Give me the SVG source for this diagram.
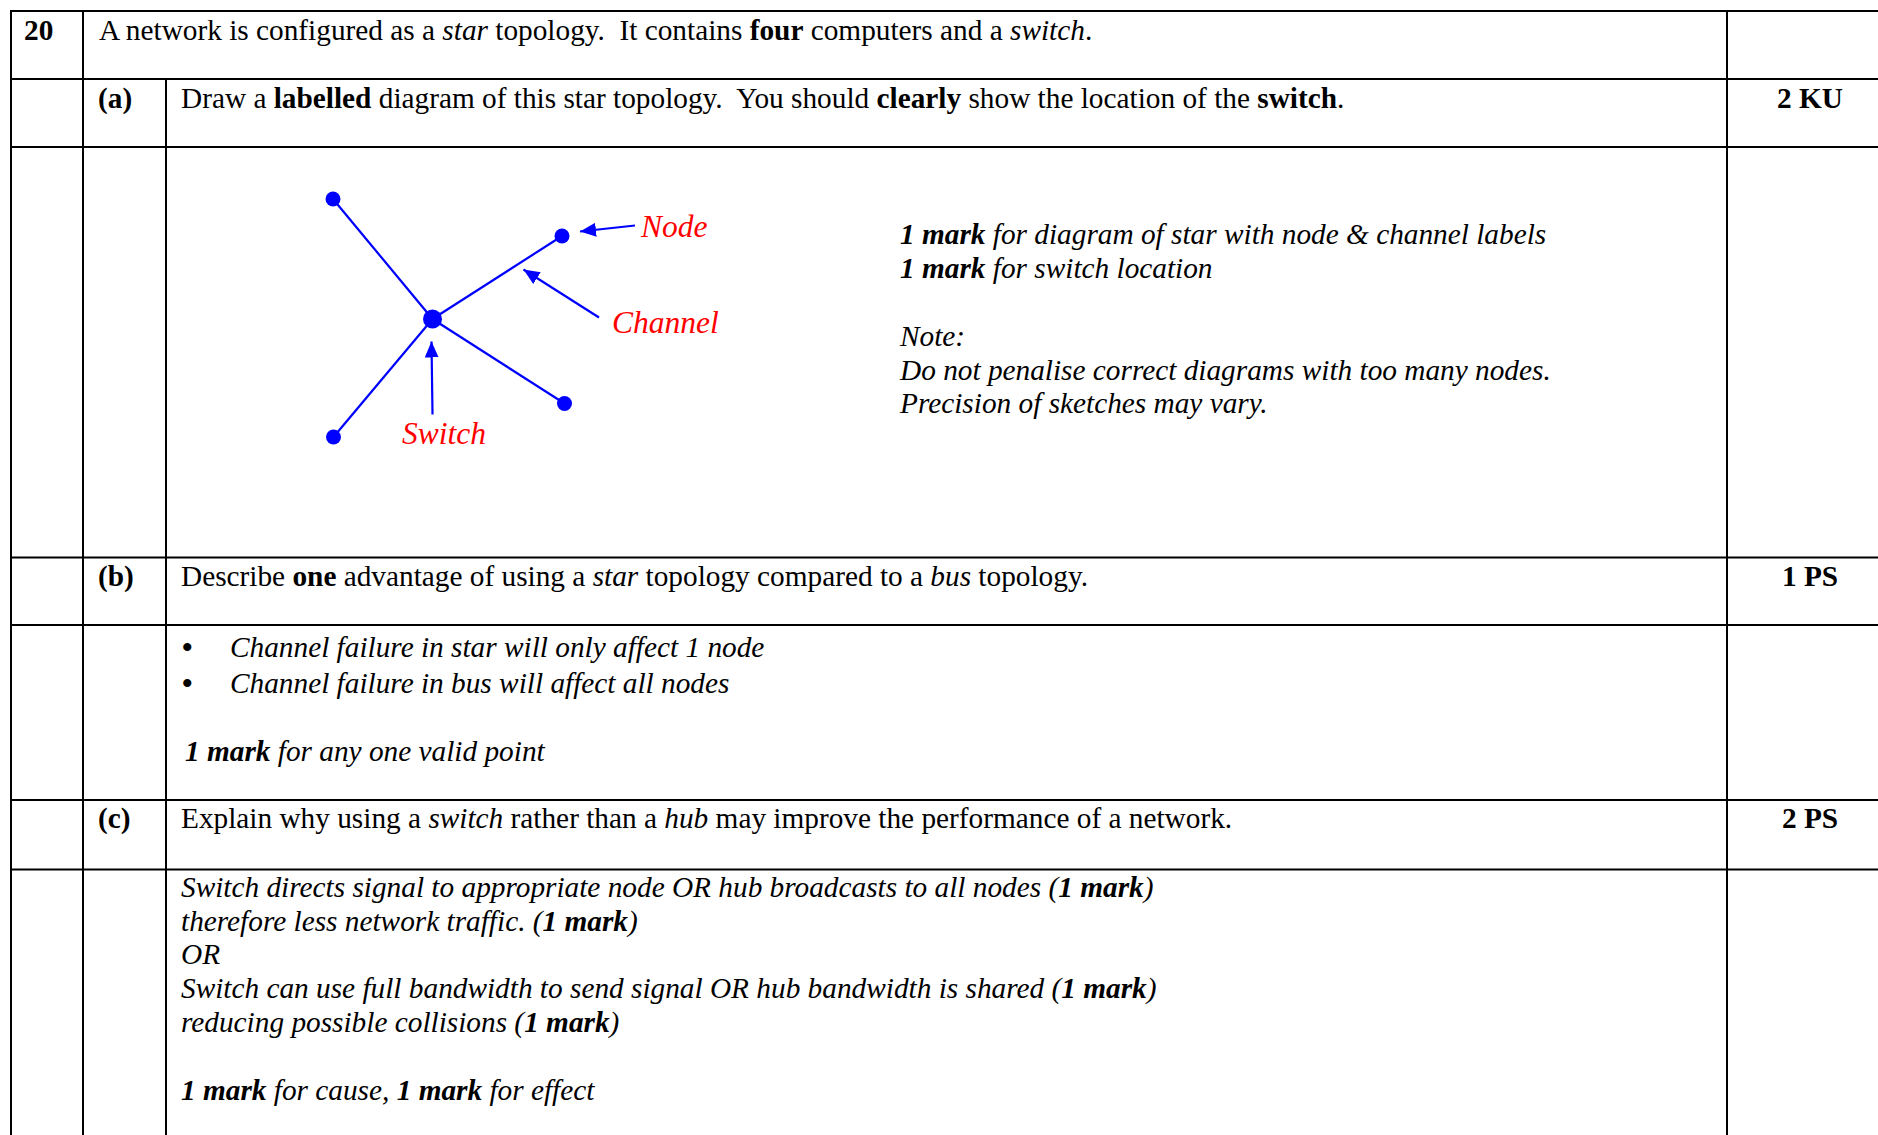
<svg xmlns="http://www.w3.org/2000/svg" width="1878" height="1135" viewBox="0 0 1878 1135">
  <defs>
    <style>
      .grid { stroke: #000; stroke-width: 2; fill: none; }
      .t { font-family: "Liberation Serif", "Times New Roman", serif; font-size: 29.3px; fill: #000; }
      .i { font-style: italic; }
      .b { font-weight: bold; }
      .mk { font-family: "Liberation Serif", "Times New Roman", serif; font-size: 29.3px; font-weight: bold; fill: #000; text-anchor: middle; }
      .bul { font-family: "Liberation Serif", "Times New Roman", serif; font-size: 30px; font-weight: bold; font-style: normal; fill: #000; }
      .lbl { font-family: "Liberation Serif", "Times New Roman", serif; font-size: 31.5px; font-style: italic; fill: #FF0000; }
      .link { stroke: #0000FF; stroke-width: 2.2; fill: none; }
      .ptr { stroke: #0000FF; stroke-width: 2.2; fill: none; marker-end: url(#arrow); }
      .dot { fill: #0000FF; }
    </style>
    <marker id="arrow" markerUnits="userSpaceOnUse" markerWidth="18" markerHeight="14" refX="16" refY="7" orient="auto">
      <path d="M0,0 L16,7 L0,14 Z" fill="#0000FF"/>
    </marker>
  </defs>

  <rect width="1878" height="1135" fill="#fff"/>

  <!-- table rules -->
  <g id="table" class="grid">
    <line x1="11" y1="11" x2="1878" y2="11"/>
    <line x1="11" y1="79" x2="1878" y2="79"/>
    <line x1="11" y1="147" x2="1878" y2="147"/>
    <line x1="11" y1="557.5" x2="1878" y2="557.5"/>
    <line x1="11" y1="625" x2="1878" y2="625"/>
    <line x1="11" y1="800" x2="1878" y2="800"/>
    <line x1="11" y1="869.5" x2="1878" y2="869.5"/>
    <line x1="11" y1="10" x2="11" y2="1135"/>
    <line x1="83" y1="10" x2="83" y2="1135"/>
    <line x1="166" y1="79" x2="166" y2="1135"/>
    <line x1="1727" y1="10" x2="1727" y2="1135"/>
  </g>

  <!-- question text -->
  <g id="question">
    <text class="t b" x="24" y="39.5">20</text>
    <text class="t" x="99" y="39.5" xml:space="preserve">A network is configured as a <tspan class="i">star</tspan> topology.  It contains <tspan class="b">four</tspan> computers and a <tspan class="i">switch</tspan>.</text>

    <text class="t b" x="98" y="107.5">(a)</text>
    <text class="t" x="181" y="107.5" xml:space="preserve">Draw a <tspan class="b">labelled</tspan> diagram of this star topology.  You should <tspan class="b">clearly</tspan> show the location of the <tspan class="b">switch</tspan>.</text>
    <text class="mk" x="1810" y="107.5">2 KU</text>

    <text class="t b" x="98" y="585.5">(b)</text>
    <text class="t" x="181" y="585.5">Describe <tspan class="b">one</tspan> advantage of using a <tspan class="i">star</tspan> topology compared to a <tspan class="i">bus</tspan> topology.</text>
    <text class="mk" x="1810" y="585.5">1 PS</text>

    <text class="t b" x="98" y="828">(c)</text>
    <text class="t" x="181" y="828">Explain why using a <tspan class="i">switch</tspan> rather than a <tspan class="i">hub</tspan> may improve the performance of a network.</text>
    <text class="mk" x="1810" y="828">2 PS</text>
  </g>

  <!-- marking notes -->
  <g id="notes-a" class="t i">
    <text x="900" y="244"><tspan class="b">1 mark</tspan> for diagram of star with node &amp; channel labels</text>
    <text x="900" y="277.5"><tspan class="b">1 mark</tspan> for switch location</text>
    <text x="900" y="345.5">Note:</text>
    <text x="900" y="379.5">Do not penalise correct diagrams with too many nodes.</text>
    <text x="900" y="413">Precision of sketches may vary.</text>
  </g>

  <g id="notes-b" class="t i">
    <text class="bul" x="182" y="656.5">•</text>
    <text x="230" y="656.5">Channel failure in star will only affect 1 node</text>
    <text class="bul" x="182" y="692.5">•</text>
    <text x="230" y="692.5">Channel failure in bus will affect all nodes</text>
    <text x="185" y="760.5"><tspan class="b">1 mark</tspan> for any one valid point</text>
  </g>

  <g id="notes-c" class="t i">
    <text x="181" y="897">Switch directs signal to appropriate node OR hub broadcasts to all nodes (<tspan class="b">1 mark</tspan>)</text>
    <text x="181" y="930.5">therefore less network traffic. (<tspan class="b">1 mark</tspan>)</text>
    <text x="181" y="964">OR</text>
    <text x="181" y="998">Switch can use full bandwidth to send signal OR hub bandwidth is shared (<tspan class="b">1 mark</tspan>)</text>
    <text x="181" y="1032">reducing possible collisions (<tspan class="b">1 mark</tspan>)</text>
    <text x="181" y="1100"><tspan class="b">1 mark</tspan> for cause, <tspan class="b">1 mark</tspan> for effect</text>
  </g>

  <!-- star topology sketch -->
  <g id="connectors">
    <line class="link" x1="432.5" y1="319" x2="333" y2="199"/>
    <line class="link" x1="432.5" y1="319" x2="562" y2="236"/>
    <line class="link" x1="432.5" y1="319" x2="564.5" y2="403.5"/>
    <line class="link" x1="432.5" y1="319" x2="333.5" y2="437"/>
    <line class="ptr" x1="635" y1="225.5" x2="580" y2="231.5"/>
    <line class="ptr" x1="599" y1="317.5" x2="523.5" y2="269.5"/>
    <line class="ptr" x1="432.5" y1="414.5" x2="431.5" y2="341.5"/>
  </g>

  <g id="switch">
    <circle class="dot" cx="432.5" cy="319" r="9.5"/>
    <text class="lbl" x="402" y="444">Switch</text>
  </g>
  <g id="node-top-left"><circle class="dot" cx="333" cy="199" r="7.5"/></g>
  <g id="node-top-right">
    <circle class="dot" cx="562" cy="236" r="7.5"/>
    <text class="lbl" x="641" y="237">Node</text>
  </g>
  <g id="node-bottom-right"><circle class="dot" cx="564.5" cy="403.5" r="7.5"/></g>
  <g id="node-bottom-left"><circle class="dot" cx="333.5" cy="437" r="7.5"/></g>
  <g id="channel-label">
    <text class="lbl" x="612" y="332.5">Channel</text>
  </g>
</svg>
